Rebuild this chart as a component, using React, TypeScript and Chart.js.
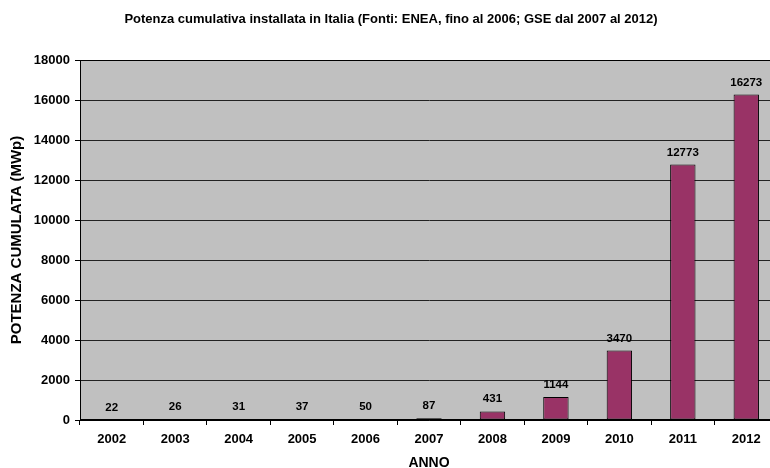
import React, { useEffect, useRef } from "react";
import { Chart, registerables } from "chart.js";

Chart.register(...registerables);

const chartTitle = "Potenza cumulativa installata in Italia (Fonti: ENEA, fino al 2006; GSE dal 2007 al 2012)";
const xAxisTitle = "ANNO";
const yAxisTitle = "POTENZA CUMULATA (MWp)";
const categories = ["2002", "2003", "2004", "2005", "2006", "2007", "2008", "2009", "2010", "2011", "2012"];
const values = [22, 26, 31, 37, 50, 87, 431, 1144, 3470, 12773, 16273];
const yMin = 0;
const yMax = 18000;
const yStep = 2000;

const FONT = '"Liberation Sans", Arial, Helvetica, sans-serif';

export default function App() {
  const ref = useRef<HTMLCanvasElement | null>(null);

  useEffect(() => {
    const canvas = ref.current;
    if (!canvas) return;

    const plotBg = {
      id: "plotBg",
      beforeDraw(chart: any) {
        const { ctx, chartArea } = chart;
        ctx.save();
        ctx.fillStyle = "#C0C0C0";
        ctx.fillRect(chartArea.left, chartArea.top, chartArea.right - chartArea.left, chartArea.bottom - chartArea.top);
        ctx.restore();
      },
    };

    const plotBorder = {
      id: "plotBorder",
      afterDatasetsDraw(chart: any) {
        const { ctx, chartArea } = chart;
        ctx.save();
        ctx.strokeStyle = "#000";
        ctx.lineWidth = 1;
        const l = Math.round(chartArea.left) + 0.5;
        const t = Math.round(chartArea.top) + 0.5;
        const r = Math.round(chartArea.right) - 0.5;
        const b = Math.round(chartArea.bottom) - 0.5;
        ctx.strokeRect(l, t, r - l, b - t);
        ctx.restore();
      },
    };

    const dataLabels = {
      id: "dataLabels",
      afterDatasetsDraw(chart: any) {
        const { ctx } = chart;
        const meta = chart.getDatasetMeta(0);
        ctx.save();
        ctx.fillStyle = "#000";
        ctx.font = `bold 11.5px ${FONT}`;
        ctx.textAlign = "center";
        ctx.textBaseline = "alphabetic";
        meta.data.forEach((el: any, i: number) => {
          ctx.fillText(String(values[i]), el.x, el.y - 9);
        });
        ctx.restore();
      },
    };

    const titlePlugin = {
      id: "mainTitle",
      afterDraw(chart: any) {
        const { ctx } = chart;
        ctx.save();
        ctx.fillStyle = "#000";
        ctx.font = `bold 13px ${FONT}`;
        ctx.textAlign = "center";
        ctx.textBaseline = "middle";
        ctx.fillText(chartTitle, 391, 19.5);
        ctx.restore();
      },
    };

    const chart = new Chart(canvas, {
      type: "bar",
      data: {
        labels: categories,
        datasets: [
          {
            data: values,
            backgroundColor: "#993366",
            borderColor: "#000",
            borderWidth: 1,
            borderSkipped: false,
            barPercentage: 0.4,
            categoryPercentage: 1,
          },
        ],
      },
      options: {
        animation: false,
        responsive: false,
        devicePixelRatio: 1,
        layout: { padding: { left: 0, right: 0, top: 60, bottom: 0 } },
        plugins: {
          legend: { display: false },
          title: { display: false },
          tooltip: { enabled: false },
        },
        scales: {
          x: {
            afterFit(scale: any) {
              scale.height = 48;
            },
            grid: {
              display: true,
              drawOnChartArea: false,
              drawTicks: true,
              tickLength: 5,
              tickColor: "#000",
              offset: true,
            },
            border: { display: true, color: "#000", width: 1 },
            ticks: {
              color: "#000",
              font: { family: FONT, size: 13, weight: "bold" },
              padding: 7,
              maxRotation: 0,
              autoSkip: false,
            },
            title: {
              display: true,
              text: xAxisTitle,
              color: "#000",
              font: { family: FONT, size: 14, weight: "bold", lineHeight: 0.72 },
              padding: { top: 0, bottom: 0 },
            },
          },
          y: {
            min: yMin,
            max: yMax,
            afterFit(scale: any) {
              scale.width = 80;
            },
            grid: {
              color: "#222",
              lineWidth: 1,
              drawTicks: true,
              tickLength: 5,
              tickColor: "#000",
            },
            border: { display: true, color: "#000", width: 1 },
            ticks: {
              stepSize: yStep,
              color: "#000",
              font: { family: FONT, size: 13, weight: "bold" },
              padding: 5,
              callback: (v: any) => String(v),
            },
            title: {
              display: true,
              text: yAxisTitle,
              color: "#000",
              font: { family: FONT, size: 15, weight: "bold", lineHeight: 1.2 },
              padding: { top: 7.5, bottom: 0 },
            },
          },
        },
      },
      plugins: [plotBg, plotBorder, dataLabels, titlePlugin],
    });

    return () => {
      chart.destroy();
    };
  }, []);

  return (
    <div
      style={{
        position: "fixed",
        left: 0,
        top: 0,
        width: 770,
        height: 468,
        overflow: "hidden",
        background: "#fff",
      }}
    >
      <canvas ref={ref} width={778} height={468} style={{ display: "block", width: 778, height: 468 }} />
    </div>
  );
}
